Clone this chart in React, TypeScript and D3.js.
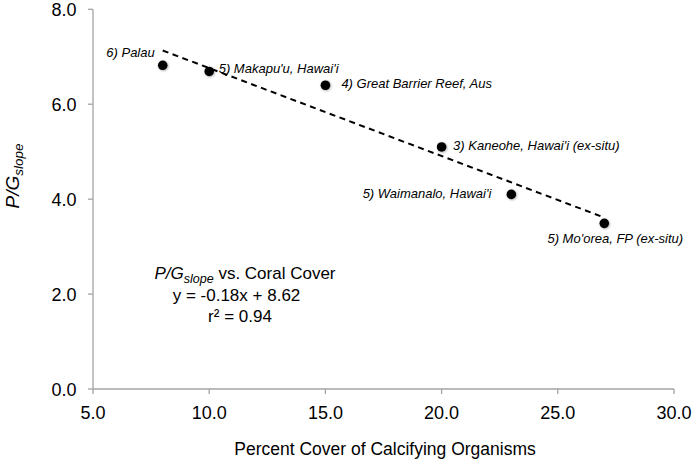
import React from "react";
import * as d3 from "d3";

// ---- data ----
const sites = [
  "6) Palau",
  "5) Makapu'u, Hawai'i",
  "4) Great Barrier Reef, Aus",
  "3) Kaneohe, Hawai'i (ex-situ)",
  "5) Waimanalo, Hawai'i",
  "5) Mo'orea, FP (ex-situ)",
];
const coverPct = [8, 10, 15, 20, 23, 27];
const pgSlope = [6.82, 6.69, 6.4, 5.1, 4.1, 3.49];
const xTicks = [5, 10, 15, 20, 25, 30];
const yTicks = [0, 2, 4, 6, 8];
const equationText = "y = -0.18x + 8.62";
const r2Text = "r\u00B2 = 0.94";

// label placement (style, relative to point)
const labelPlace: { dx: number; dy: number; anchor: string }[] = [
  { dx: -8, dy: -8, anchor: "end" },
  { dx: 9.5, dy: 1.5, anchor: "start" },
  { dx: 16, dy: 2.5, anchor: "start" },
  { dx: 11.5, dy: 3.3, anchor: "start" },
  { dx: -20, dy: 3.4, anchor: "end" },
  { dx: 11, dy: 20, anchor: "middle" },
];

const FONT = "'Liberation Sans', Arial, Helvetica, sans-serif";
const AXIS = "#a3a3a3";

export default function App() {
  const x = d3.scaleLinear().domain([5, 30]).range([93, 674]);
  const y = d3.scaleLinear().domain([0, 8]).range([389, 9.3]);

  // least squares fit
  const mx = d3.mean(coverPct) as number;
  const my = d3.mean(pgSlope) as number;
  let sxy = 0,
    sxx = 0;
  coverPct.forEach((c, i) => {
    sxy += (c - mx) * (pgSlope[i] - my);
    sxx += (c - mx) * (c - mx);
  });
  const slope = sxy / sxx;
  const intercept = my - slope * mx;
  const [x0, x1] = d3.extent(coverPct) as [number, number];
  const trend = d3
    .line<number>()
    .x((d) => x(d))
    .y((d) => y(slope * d + intercept))([x0, x1]);

  return (
    <svg
      width={696}
      height={463}
      style={{ position: "absolute", left: 0, top: 0, background: "#fff" }}
      fontFamily={FONT}
    >
      <defs>
        <filter id="sh" x="-50%" y="-50%" width="200%" height="200%">
          <feDropShadow dx="0.8" dy="0.8" stdDeviation="0.8" floodColor="#000" floodOpacity="0.35" />
        </filter>
      </defs>
      {/* axes */}
      <line x1={x(5)} x2={x(5)} y1={y(8)} y2={y(0)} stroke={AXIS} strokeWidth={1.3} />
      <line x1={x(5)} x2={x(30)} y1={y(0)} y2={y(0)} stroke={AXIS} strokeWidth={1.3} />
      {yTicks.map((t) => (
        <g key={"y" + t}>
          <line x1={x(5) - 5} x2={x(5)} y1={y(t)} y2={y(t)} stroke={AXIS} strokeWidth={1.3} />
          <text x={76.5} y={y(t) + 6.5} textAnchor="end" fontSize={18} fill="#000">
            {d3.format(".1f")(t)}
          </text>
        </g>
      ))}
      {xTicks.map((t) => (
        <g key={"x" + t}>
          <line x1={x(t)} x2={x(t)} y1={y(0)} y2={y(0) + 5} stroke={AXIS} strokeWidth={1.3} />
          <text x={x(t)} y={419} textAnchor="middle" fontSize={18} fill="#000">
            {d3.format(".1f")(t)}
          </text>
        </g>
      ))}
      {/* axis titles */}
      <text x={385} y={455} textAnchor="middle" fontSize={17.5} fill="#000">
        Percent Cover of Calcifying Organisms
      </text>
      <text transform="translate(19,176) rotate(-90)" textAnchor="middle" fill="#000">
        <tspan fontSize={19} fontStyle="italic">P/G</tspan>
        <tspan fontSize={13.5} fontStyle="italic" dy={4}>slope</tspan>
      </text>
      {/* trendline */}
      <path d={trend || ""} fill="none" stroke="#000" strokeWidth={2} strokeDasharray="6,4.5" />
      {/* points */}
      {coverPct.map((c, i) => (
        <circle key={"p" + i} cx={x(c)} cy={y(pgSlope[i])} r={4.8} fill="#000" filter="url(#sh)" />
      ))}
      {sites.map((s, i) => (
        <text
          key={"l" + i}
          x={x(coverPct[i]) + labelPlace[i].dx}
          y={y(pgSlope[i]) + labelPlace[i].dy}
          textAnchor={labelPlace[i].anchor as any}
          fontSize={13}
          fontStyle="italic"
          fill="#000"
        >
          {s}
        </text>
      ))}
      {/* annotation */}
      <text x={245} y={279} textAnchor="middle" fontSize={17} fill="#000">
        <tspan fontStyle="italic">P/G</tspan>
        <tspan fontStyle="italic" fontSize={12.5} dy={4}>slope</tspan>
        <tspan dy={-4}> vs. Coral Cover</tspan>
      </text>
      <text x={236.5} y={301} textAnchor="middle" fontSize={17} fill="#000">
        {equationText}
      </text>
      <text x={240} y={321.5} textAnchor="middle" fontSize={17} fill="#000">
        {r2Text}
      </text>
    </svg>
  );
}
